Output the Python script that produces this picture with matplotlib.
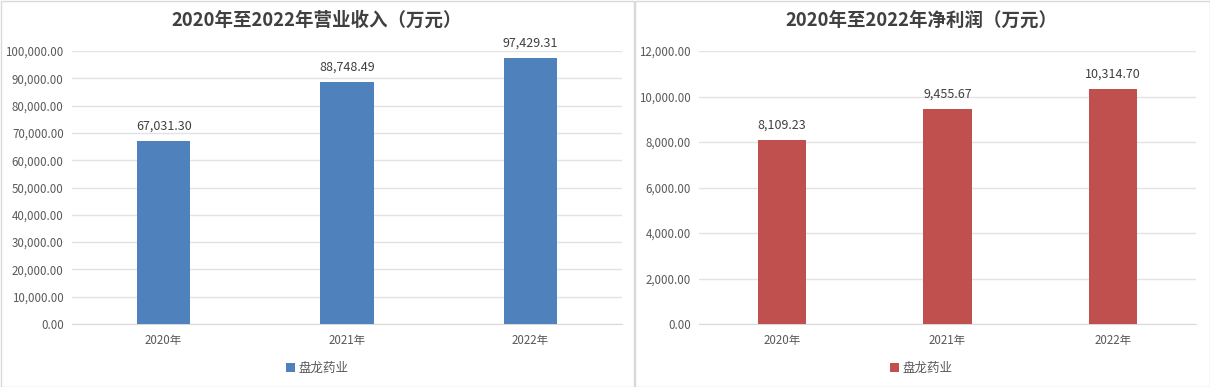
import matplotlib
matplotlib.use("Agg")
import matplotlib.pyplot as plt
from matplotlib.patches import Rectangle, Patch

plt.rcParams['font.family'] = ['Noto Sans CJK SC', 'DejaVu Sans']

years = ["2020年", "2021年", "2022年"]
revenue = [67031.30, 88748.49, 97429.31]
profit = [8109.23, 9455.67, 10314.70]
series_name = "盘龙药业"
title_rev = "2020年至2022年营业收入（万元）"
title_profit = "2020年至2022年净利润（万元）"
rev_ticks = list(range(0, 100001, 10000))
profit_ticks = list(range(0, 12001, 2000))

W, H = 1210, 387
fig = plt.figure(figsize=(W / 100, H / 100), dpi=100)

# panel frames
fig.add_artist(Rectangle((0.5 / W, 0.5 / H), 633 / W, 386 / H, transform=fig.transFigure,
                         fill=False, edgecolor='#d9d9d9', lw=1))
fig.add_artist(Rectangle((635 / W, 0.5 / H), 574.5 / W, 386 / H, transform=fig.transFigure,
                         fill=False, edgecolor='#d9d9d9', lw=1))

def panel(rect, values, ticks, color, title, tcx):
    ax = fig.add_axes(rect)
    x = list(range(len(years)))
    ax.bar(x, values, width=0.29, color=color, zorder=3)
    ax.set_xlim(-0.5, len(years) - 0.5)
    ax.set_ylim(ticks[0], ticks[-1])
    ax.set_yticks(ticks)
    ax.set_yticklabels([f"{t:,.2f}" for t in ticks])
    ax.set_xticks(x)
    ax.set_xticklabels(years)
    ax.tick_params(axis='both', length=0, labelsize=8.3, colors='#595959')
    ax.tick_params(axis='x', pad=7)
    ax.tick_params(axis='y', pad=6)
    for s in ['top', 'right', 'left']:
        ax.spines[s].set_visible(False)
    ax.spines['bottom'].set_color('#d9d9d9')
    ax.yaxis.grid(True, color='#e3e3e3', lw=1, zorder=0)
    ax.set_axisbelow(True)
    for xi, v in zip(x, values):
        ax.annotate(f"{v:,.2f}", (xi, v), xytext=(0, 6), textcoords='offset points',
                    ha='center', va='bottom', fontsize=9, color='#404040')
    fig.text(tcx / W, 1 - 20 / H, title, ha='center', va='center', fontsize=13.3,
             fontweight='bold', color='#404040')
    fig.legend(handles=[Patch(facecolor=color, label=series_name)], loc='center',
               bbox_to_anchor=(tcx / W, 1 - 368 / H), bbox_transform=fig.transFigure,
               frameon=False, fontsize=9, handlelength=0.7, handleheight=0.7,
               handletextpad=0.3, labelcolor='#595959')
    return ax

panel([72 / W, 1 - 324 / H, 550 / W, 273 / H], revenue, rev_ticks, '#4F81BD', title_rev, 317)
panel([699 / W, 1 - 324 / H, 497 / W, 273 / H], profit, profit_ticks, '#C0504D', title_profit, 921)

fig.savefig("out.png", dpi=100)
